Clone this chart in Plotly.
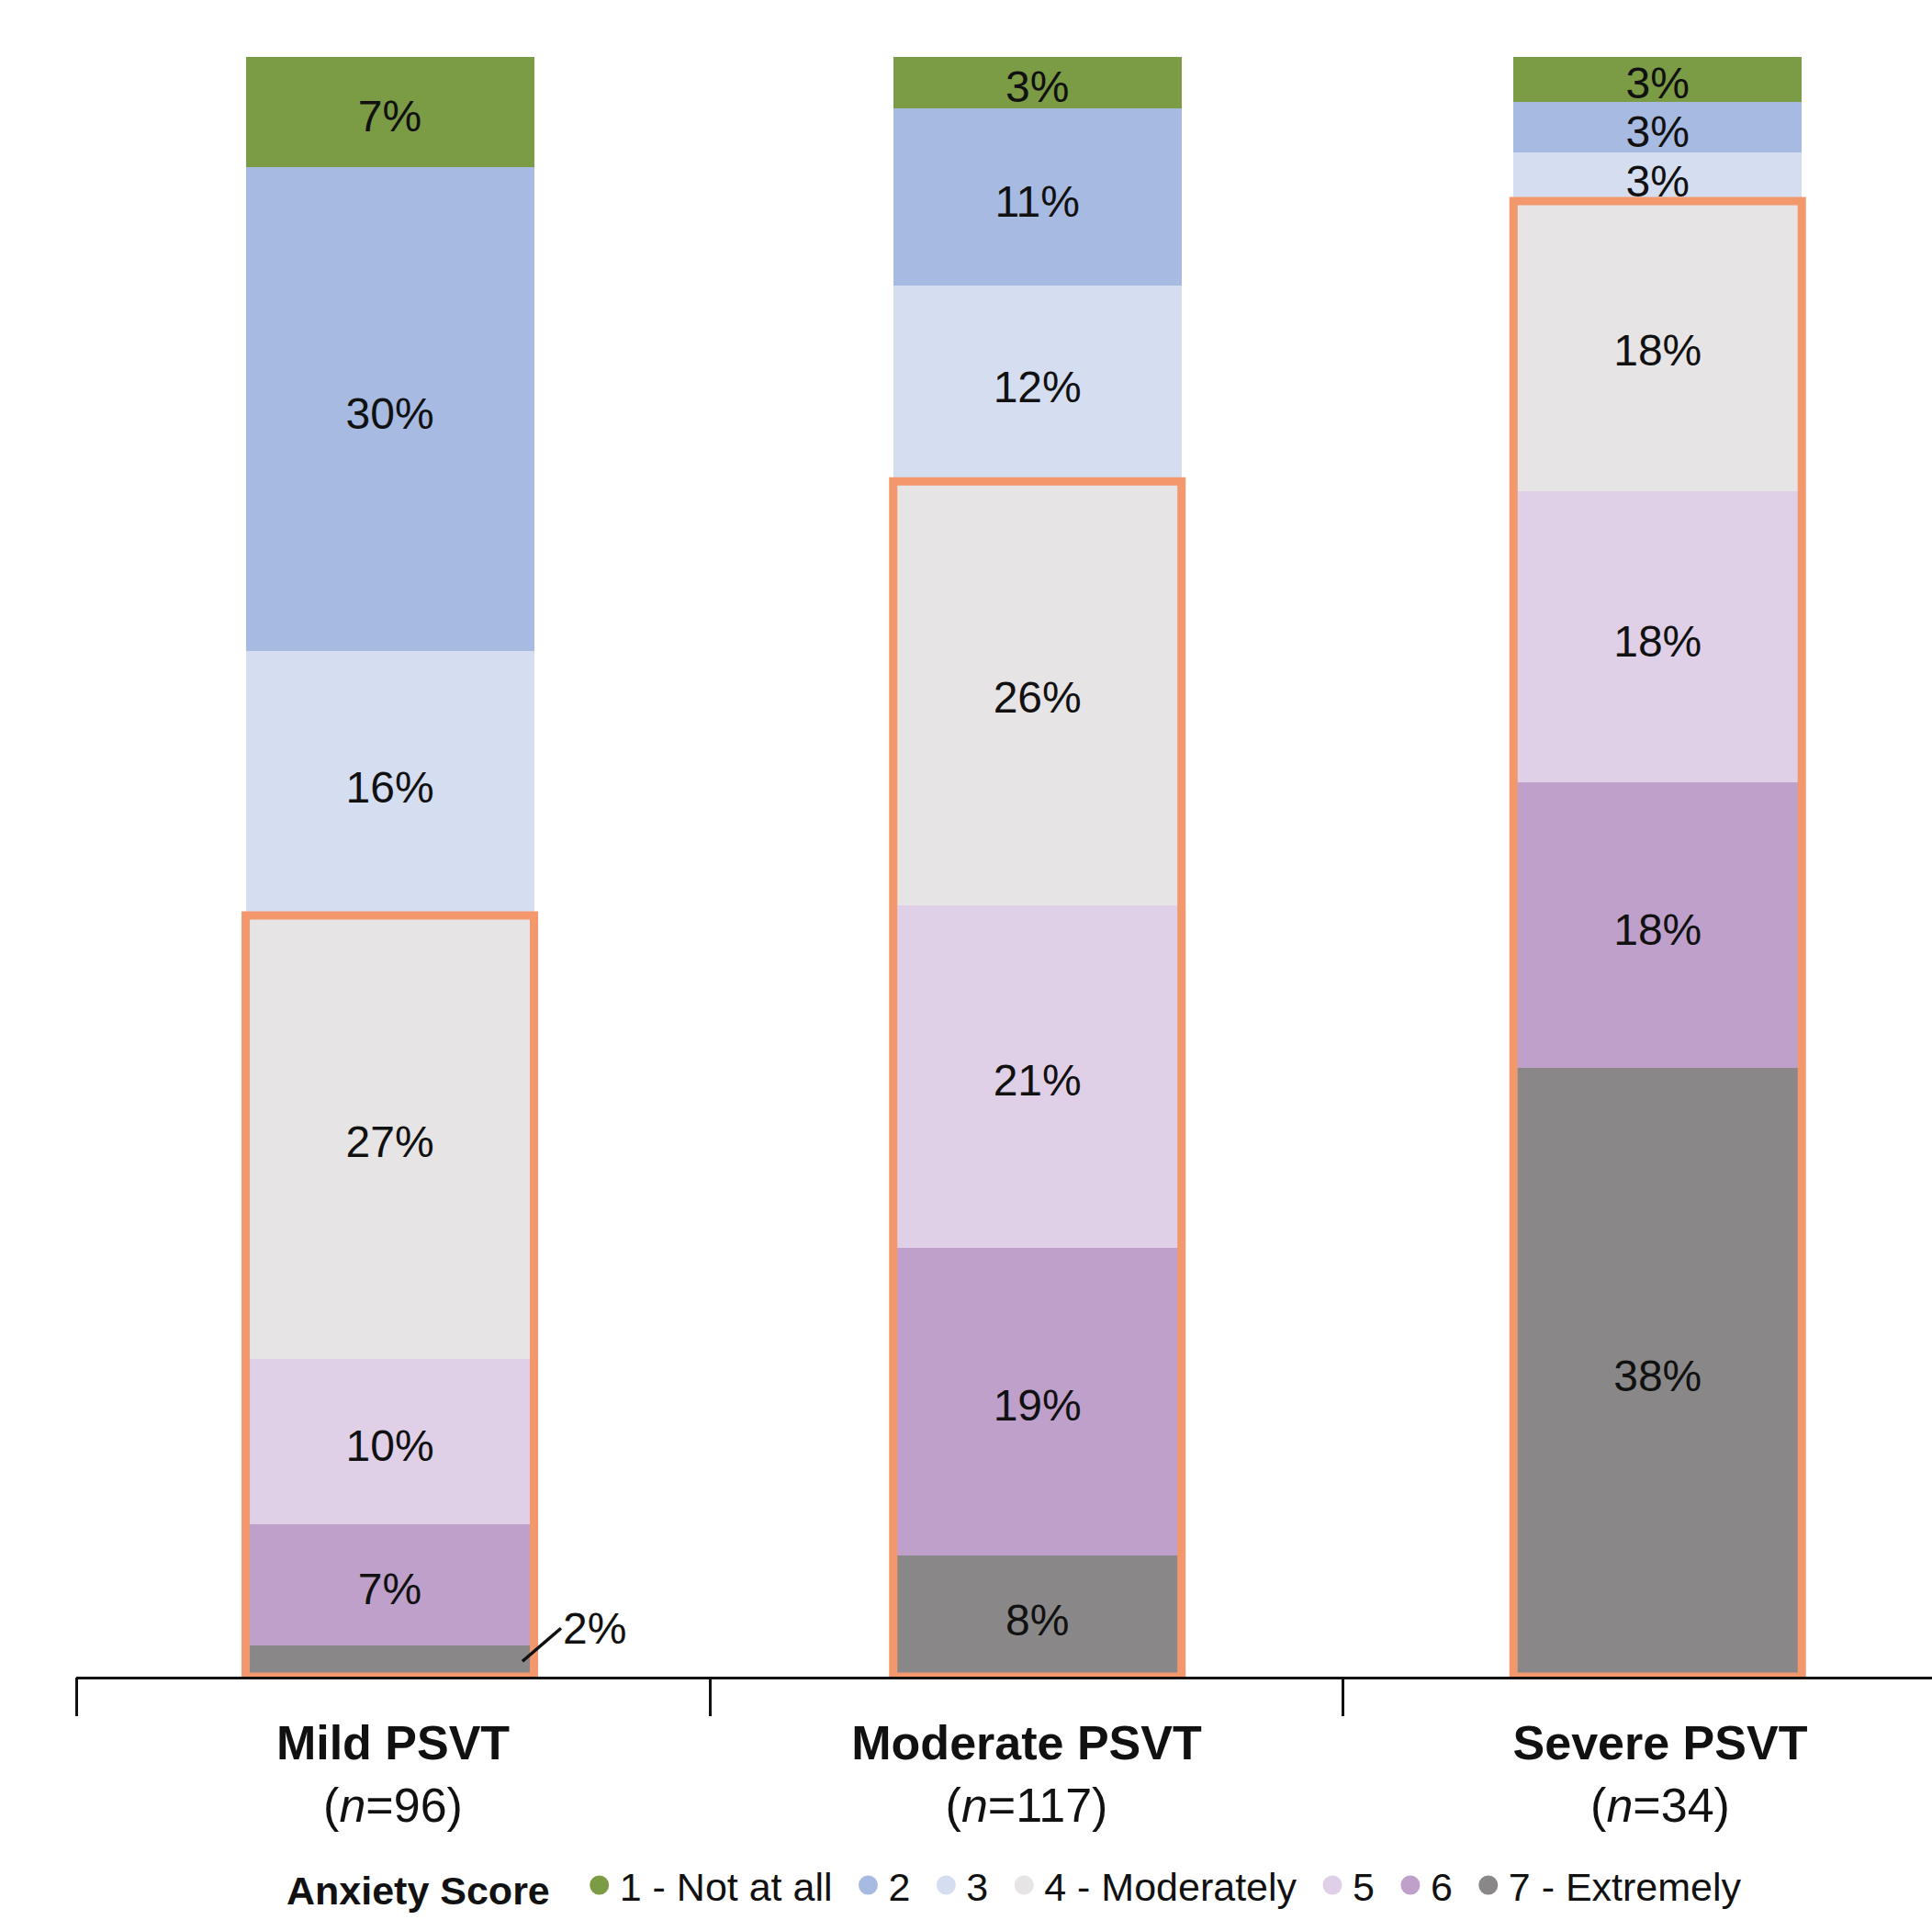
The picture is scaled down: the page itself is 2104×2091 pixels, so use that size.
import plotly.graph_objects as go

categories = ["Mild PSVT", "Moderate PSVT", "Severe PSVT"]
n_values = [96, 117, 34]

score_names = ["1 - Not at all", "2", "3", "4 - Moderately", "5", "6", "7 - Extremely"]
score_colors = ["#7B9B45", "#A7BAE1", "#D5DEF1", "#E6E4E5", "#DFD0E8", "#BEA0CB", "#898788"]

# percentage of each group per score
score1 = [6.8, 3.2, 2.9]
score2 = [29.9, 10.9, 3.1]
score3 = [16.3, 12.1, 3.0]
score4 = [27.4, 26.2, 17.9]
score5 = [10.2, 21.1, 18.0]
score6 = [7.5, 19.0, 17.6]
score7 = [1.9, 7.5, 37.6]

# printed labels
labels1 = ["7%", "3%", "3%"]
labels2 = ["30%", "11%", "3%"]
labels3 = ["16%", "12%", "3%"]
labels4 = ["27%", "26%", "18%"]
labels5 = ["10%", "21%", "18%"]
labels6 = ["7%", "19%", "18%"]
labels7 = ["", "8%", "38%"]
outside_label = "2%"

series = [score1, score2, score3, score4, score5, score6, score7]
labels = [labels1, labels2, labels3, labels4, labels5, labels6, labels7]

FONT = "Liberation Sans, Arial, Helvetica, sans-serif"
W, H = 2104, 2091
M_L, M_R, M_T, M_B = 83, 0, 62, 265
PLOT_H = H - M_T - M_B
BAR_W = 0.455
BAR_SHIFT = [-0.005, 0.017, -0.004]   # small horizontal nudge of each bar in its category
LABEL_NUDGE = 9 / PLOT_H * 100        # move value labels ~9 px down (optical centering)
ORANGE = "#F3976C"
NBSP = "\u00a0"

cat_idx = list(range(len(categories)))
bar_x = [i + s for i, s in zip(cat_idx, BAR_SHIFT)]

# draw from bottom (7) to top (1)
order = list(range(6, -1, -1))

fig = go.Figure()
base = [0.0] * len(categories)
text_x, text_y, text_s = [], [], []
for i in order:
    fig.add_trace(go.Bar(
        x=bar_x, y=series[i], width=BAR_W,
        marker=dict(color=score_colors[i], line=dict(width=0)),
        textposition="none", showlegend=False, hoverinfo="skip",
    ))
    for j in cat_idx:
        if labels[i][j]:
            text_x.append(bar_x[j])
            text_y.append(base[j] + series[i][j] / 2 - LABEL_NUDGE)
            text_s.append(labels[i][j])
        base[j] += series[i][j]

# segment value labels
fig.add_trace(go.Scatter(
    x=text_x, y=text_y, text=text_s, mode="text", textposition="middle center",
    textfont=dict(size=48, color="#111111", family=FONT),
    showlegend=False, hoverinfo="skip", cliponaxis=False,
))

# legend entries (circles)
for i in range(7):
    fig.add_trace(go.Scatter(
        x=[None], y=[None], mode="markers", name=score_names[i] + NBSP,
        marker=dict(symbol="circle", size=16, color=score_colors[i],
                    line=dict(width=5, color=score_colors[i])),
        showlegend=True,
    ))

# orange boxes around scores 4-7
shapes = []
for j in cat_idx:
    top = score4[j] + score5[j] + score6[j] + score7[j]
    shapes.append(dict(type="rect", xref="x", yref="y",
                       x0=bar_x[j] - BAR_W / 2, x1=bar_x[j] + BAR_W / 2, y0=0, y1=top,
                       line=dict(color=ORANGE, width=9), fillcolor="rgba(0,0,0,0)",
                       layer="above"))

annotations = [dict(
    x=bar_x[0] + BAR_W * 0.46, y=score7[0] / 2, xref="x", yref="y",
    text=outside_label, showarrow=True, arrowhead=0, arrowwidth=3.5,
    arrowcolor="#111111", ax=42, ay=-36, xanchor="left", yanchor="middle",
    font=dict(size=48, color="#111111", family=FONT),
)]

ticktext = [f"<b>{c}</b><br>(<i>n</i>={n})" for c, n in zip(categories, n_values)]

fig.update_layout(
    barmode="stack",
    width=W, height=H,
    margin=dict(l=M_L, r=M_R, t=M_T, b=M_B, pad=0),
    paper_bgcolor="white", plot_bgcolor="white",
    font=dict(family=FONT, color="#111111"),
    shapes=shapes, annotations=annotations,
    legend=dict(
        orientation="h", x=(310 - M_L) / (W - M_L - M_R), xanchor="left",
        y=-0.1287, yanchor="middle",
        title=dict(text="<b>Anxiety Score</b>" + NBSP * 2, side="left",
                   font=dict(size=43, family=FONT, color="#111111")),
        font=dict(size=43, family=FONT, color="#111111"),
        itemsizing="trace", traceorder="normal", itemwidth=34,
        bgcolor="rgba(0,0,0,0)",
    ),
    xaxis=dict(
        type="linear", range=[-0.5, 2.429],
        tickmode="array", tickvals=cat_idx, ticktext=ticktext,
        showline=True, linecolor="#111111", linewidth=3,
        showgrid=False, zeroline=False,
        ticks="", tickfont=dict(size=52, family=FONT, color="#111111"),
        ticklabelstandoff=25,
        fixedrange=True,
    ),
    xaxis2=dict(
        overlaying="x", matches="x", range=[-0.5, 2.429],
        tickmode="array", tickvals=[-0.5, 0.5, 1.5, 2.5], ticktext=["", "", "", ""],
        ticks="outside", ticklen=42, tickwidth=3, tickcolor="#111111",
        showgrid=False, showline=False, zeroline=False, side="bottom",
    ),
    yaxis=dict(range=[0, 100], visible=False, showgrid=False, zeroline=False),
)

# invisible trace to activate the tick axis at category boundaries
fig.add_trace(go.Scatter(x=[None], y=[None], xaxis="x2", showlegend=False, hoverinfo="skip"))

fig.write_html("out.html")
